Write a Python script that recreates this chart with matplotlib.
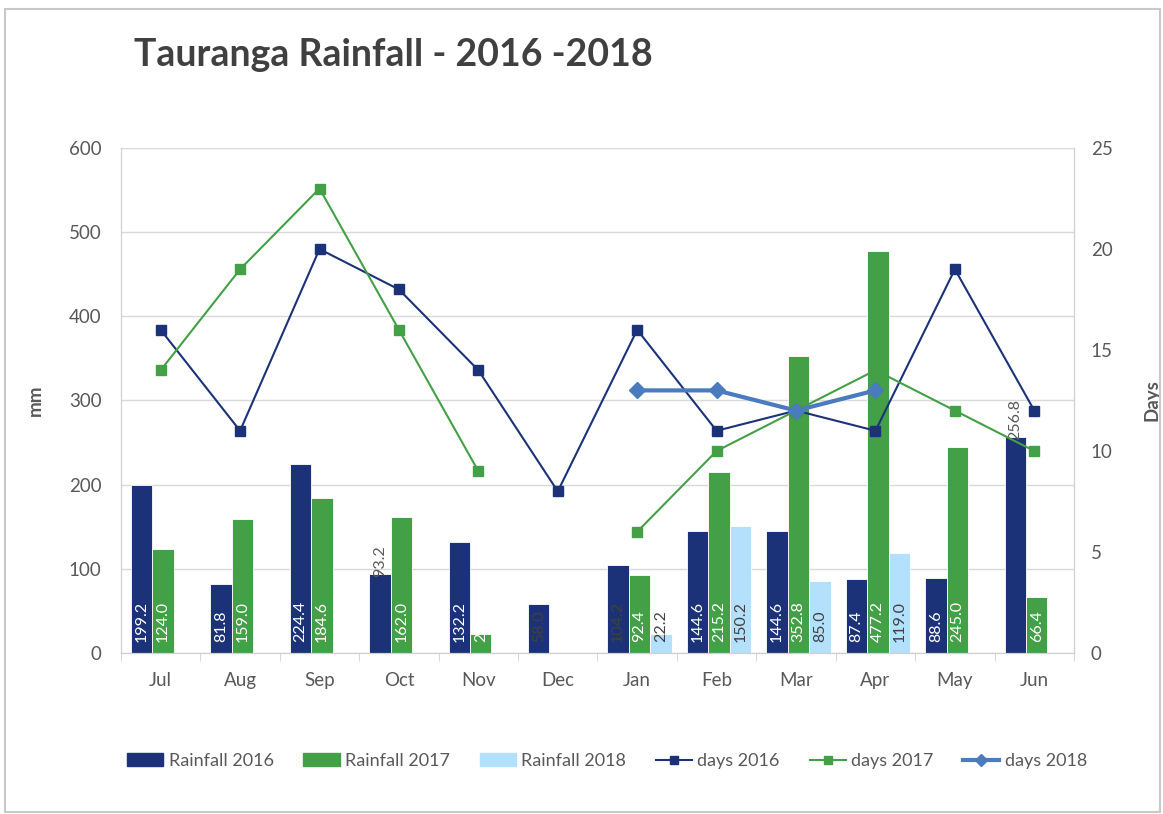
import numpy as np
import matplotlib.pyplot as plt
from matplotlib.patches import Rectangle
from matplotlib.lines import Line2D
from matplotlib.patches import Patch

months = ['Jul', 'Aug', 'Sep', 'Oct', 'Nov', 'Dec', 'Jan', 'Feb', 'Mar', 'Apr', 'May', 'Jun']
rain_2016 = [199.2, 81.8, 224.4, 93.2, 132.2, 58.0, 104.2, 144.6, 144.6, 87.4, 88.6, 256.8]
rain_2017 = [124.0, 159.0, 184.6, 162.0, 22.6, np.nan, 92.4, 215.2, 352.8, 477.2, 245.0, 66.4]
rain_2018 = [np.nan, np.nan, np.nan, np.nan, np.nan, np.nan, 22.2, 150.2, 85.0, 119.0, np.nan, np.nan]
days_2016 = [16, 11, 20, 18, 14, 8, 16, 11, 12, 11, 19, 12]
days_2017 = [14, 19, 23, 16, 9, np.nan, 6, 10, 12, 14, 12, 10]
days_2018 = [np.nan, np.nan, np.nan, np.nan, np.nan, np.nan, 13, 13, 12, 13, np.nan, np.nan]

navy = '#1c3278'
green = '#43a047'
light = '#b3e0fc'
steel = '#4a7bbd'
txt = '#595959'

plt.rcParams['font.family'] = ['Lato', 'DejaVu Sans']

fig = plt.figure(figsize=(11.63, 8.14), dpi=100)
fig.patches.append(Rectangle((0.004, 0.002), 0.993, 0.987, transform=fig.transFigure,
                             fill=False, edgecolor='#c8c8c8', linewidth=1.5))
ax = fig.add_axes([0.104, 0.198, 0.8195, 0.620])
ax2 = ax.twinx()

x = np.arange(len(months))
w = 0.27
shift = 0.03
b16 = ax.bar(x - w + shift, rain_2016, w, color=navy, edgecolor='white', linewidth=0.6)
b17 = ax.bar(x + shift, rain_2017, w, color=green, edgecolor='white', linewidth=0.6)
b18 = ax.bar(x + w + shift, rain_2018, w, color=light, edgecolor='white', linewidth=0.6)


def label_bars(bars, values, colors, outside=(), clip=True):
    for i, (bar, v) in enumerate(zip(bars, values)):
        if np.isnan(v):
            continue
        s = f'{v:.1f}'
        if i in outside:
            ax.annotate(s, (bar.get_x() + bar.get_width() / 2, v), xytext=(0, -2),
                        textcoords='offset points', rotation=90, ha='center', va='bottom',
                        fontsize=11.5, color=txt)
        else:
            t = ax.annotate(s, (bar.get_x() + bar.get_width() / 2, 0), xytext=(0, 8),
                            textcoords='offset points', rotation=90, ha='center', va='bottom',
                            fontsize=11.5, color=colors[i] if isinstance(colors, list) else colors)
            if clip:
                t.set_clip_path(bar)


c16 = ['white'] * 12
c16[5] = '#404040'
c16[6] = '#404040'
label_bars(b16, rain_2016, c16, outside=(3, 11), clip=False)
label_bars(b17, rain_2017, 'white')
label_bars(b18, rain_2018, '#404040', clip=False)

ax2.plot(x, days_2016, color=navy, marker='s', markersize=7, linewidth=1.5)
ax2.plot(x, days_2017, color=green, marker='s', markersize=7, linewidth=1.5)
ax2.plot(x, days_2018, color=steel, marker='D', markersize=8, linewidth=3)

ax.set_xlim(-0.5, 11.5)
ax.set_ylim(0, 600)
ax2.set_ylim(0, 25)
ax.set_yticks(range(0, 601, 100))
ax2.set_yticks(range(0, 26, 5))
ax.set_xticks(x)
ax.set_xticklabels(months)
ax.set_xticks(np.arange(-0.5, 12, 1), minor=True)
ax.tick_params(axis='x', which='major', length=0, pad=14, labelsize=13.5, labelcolor=txt)
ax.tick_params(axis='x', which='minor', length=6, color='#d0d0d0')
ax.tick_params(axis='y', length=0, labelsize=13.5, labelcolor=txt, pad=14)
ax2.tick_params(axis='y', length=0, labelsize=13.5, labelcolor=txt, pad=12)
ax.grid(axis='y', color='#d9d9d9', linewidth=1)
ax.set_axisbelow(True)
for a in (ax, ax2):
    a.spines['top'].set_visible(False)
    for s in ('left', 'right', 'bottom'):
        a.spines[s].set_color('#d0d0d0')
ax.set_ylabel('mm', fontsize=13.5, fontweight='bold', color=txt, labelpad=18)
ax2.set_ylabel('Days', fontsize=13.5, fontweight='bold', color=txt, labelpad=22)

fig.text(0.115, 0.932, 'Tauranga Rainfall - 2016 -2018', fontsize=27, fontweight='bold',
         color='#404040', ha='left', va='center')

handles = [Patch(color=navy), Patch(color=green), Patch(color=light),
           Line2D([], [], color=navy, marker='s', linewidth=1.5),
           Line2D([], [], color=green, marker='s', linewidth=1.5),
           Line2D([], [], color=steel, marker='D', linewidth=3)]
labels = ['Rainfall 2016', 'Rainfall 2017', 'Rainfall 2018', 'days 2016', 'days 2017', 'days 2018']
fig.legend(handles, labels, loc='center', bbox_to_anchor=(0.522, 0.065), ncol=6, frameon=False,
           fontsize=13, labelcolor=txt, handlelength=2.0, handletextpad=0.3, columnspacing=1.65)

fig.savefig('out.png', dpi=100)
